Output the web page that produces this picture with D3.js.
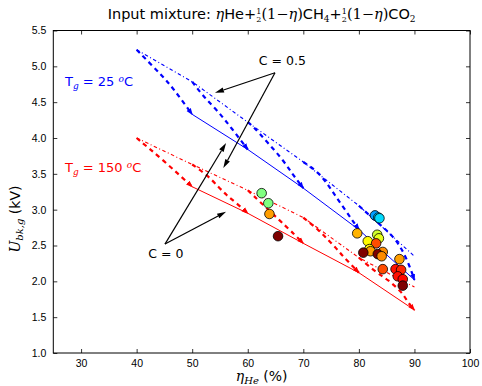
<!DOCTYPE html>
<html>
<head>
<meta charset="utf-8">
<script src="https://cdn.jsdelivr.net/npm/d3@7.9.0/dist/d3.min.js"></script>
<style>
  body { margin: 0; background: #fff; }
  svg { display: block; }
</style>
</head>
<body>
<div id="chart"></div>
<script>
// === Data ===
// C = 0.5 curves (dash-dot), eta in %
const etaC05 = [40, 50, 60, 70, 80, 90];
const uC05Cold = [5.23, 4.785, 4.22, 3.665, 3.055, 2.35];   // Tg = 25 C
const uC05Hot = [4.00, 3.63, 3.27, 2.89, 2.33, 1.92];       // Tg = 150 C

// C = 0 curves (solid)
const etaC0 = [50, 60, 70, 80, 90];
const uC0Cold = [4.33, 3.84, 3.30, 2.72, 2.02];
const uC0Hot = [3.32, 2.95, 2.53, 2.12, 1.60];

// transition curves (thick dashed), from C=0.5 at eta to C=0 at eta+10: intermediate points
const transColdEta = [[44.8, 46.6], [52.0, 54.7, 57.1], [61.0, 63.4, 66.1, 68.2], [73.0, 75.1, 77.5], [83.8, 85.9, 87.7, 89.2]];
const transColdU = [[4.855, 4.69], [4.58, 4.37, 4.135], [4.16, 3.95, 3.72, 3.48], [3.51, 3.27, 3.0], [2.79, 2.65, 2.465, 2.20]];
const transHotEta = [[44.8], [52.6, 54.7, 56.2, 58.0], [66.7, 68.2], [73.0, 74.2, 75.7, 76.9, 78.4], [83.2, 85.3, 87.7, 88.6, 89.2]];
const transHotU = [[3.69], [3.49, 3.32, 3.20, 3.09], [2.78, 2.67], [2.70, 2.60, 2.48, 2.37, 2.25], [2.12, 2.02, 1.85, 1.74, 1.67]];

// measured points: eta (%), U (kV), colour value (jet 0..1)
const measEta = [62.5, 63.7, 63.9, 65.45, 82.9, 83.5, 83.7, 79.7, 83.3, 83.6, 81.6, 83.1, 81.9, 82.1, 80.8, 84.3, 83.4, 84.1, 87.3, 84.3, 86.6, 87.6, 87.0, 87.9, 87.9];
const measU = [3.23, 3.09, 2.94, 2.63, 2.92, 2.89, 2.88, 2.67, 2.65, 2.60, 2.56, 2.53, 2.45, 2.42, 2.40, 2.41, 2.38, 2.35, 2.31, 2.17, 2.17, 2.16, 2.07, 2.03, 1.94];
const measC = [0.5, 0.5, 0.72, 1.0, 0.28, 0.33, 0.34, 0.7, 0.58, 0.6, 0.63, 0.8, 0.64, 0.72, 1.0, 0.74, 1.0, 0.74, 0.72, 0.8, 0.86, 0.84, 0.86, 0.87, 1.0];

// axis ticks
const xTicks = [30, 40, 50, 60, 70, 80, 90, 100];
const yTicks = [1.0, 1.5, 2.0, 2.5, 3.0, 3.5, 4.0, 4.5, 5.0, 5.5];

// annotations (data coords)
const labelC05 = { text: "C = 0.5", at: [62.0, 5.02], from: [64.9, 4.91], tips: [[54.1, 4.63], [55.6, 3.58]] };
const labelC0 = { text: "C = 0", at: [42.1, 2.32], from: [45.1, 2.52], tips: [[56.1, 3.93], [56.1, 2.97]] };

// === Chart setup ===
const W = 482, H = 386;
const margin = { top: 30.5, right: 12, bottom: 33, left: 53.3 };
const width = W - margin.left - margin.right;
const height = H - margin.top - margin.bottom;

const svg = d3.select("#chart").append("svg")
    .attr("width", W).attr("height", H)
    .style("font-family", "'DejaVu Sans', sans-serif");

const defs = svg.append("defs");
["#0000ff", "#ff0000"].forEach((c, i) => {
    defs.append("marker")
        .attr("id", "head" + i)
        .attr("viewBox", "0 -3 7 6")
        .attr("refX", 6).attr("refY", 0)
        .attr("markerUnits", "userSpaceOnUse")
        .attr("markerWidth", 7).attr("markerHeight", 6)
        .attr("orient", "auto")
        .append("path").attr("d", "M0,-2.6L7,0L0,2.6Z").attr("fill", c);
});

const g = svg.append("g").attr("transform", `translate(${margin.left},${margin.top})`);

const x = d3.scaleLinear().domain([25, 100]).range([0, width]);
const y = d3.scaleLinear().domain([1, 5.5]).range([height, 0]);

const jet = d3.scaleLinear()
    .domain([0, 0.125, 0.375, 0.625, 0.875, 1])
    .range(["#00007f", "#0000ff", "#00ffff", "#ffff00", "#ff0000", "#7f0000"]);

// axes: ticks inside on all four sides
const tickStyle = sel => {
    sel.select(".domain").remove();
    sel.selectAll("line").attr("stroke", "#000").attr("stroke-width", 0.8);
    sel.selectAll("text").attr("fill", "#000").style("font-size", "10.5px");
};
g.append("g").attr("transform", `translate(0,${height})`)
    .call(d3.axisBottom(x).tickValues(xTicks).tickSizeInner(-4).tickSizeOuter(0).tickPadding(7).tickFormat(d3.format("d")))
    .call(tickStyle);
g.append("g")
    .call(d3.axisTop(x).tickValues(xTicks).tickSizeInner(-4).tickSizeOuter(0).tickFormat(""))
    .call(tickStyle);
g.append("g")
    .call(d3.axisLeft(y).tickValues(yTicks).tickSizeInner(-4).tickSizeOuter(0).tickPadding(7).tickFormat(d3.format(".1f")))
    .call(tickStyle);
g.append("g").attr("transform", `translate(${width},0)`)
    .call(d3.axisRight(y).tickValues(yTicks).tickSizeInner(-4).tickSizeOuter(0).tickFormat(""))
    .call(tickStyle);

// === Lines ===
const line = d3.line().x(d => x(d[0])).y(d => y(d[1]));
const smooth = d3.line().x(d => x(d[0])).y(d => y(d[1])).curve(d3.curveBasis);

function drawSet(uC05, uC0, tEta, tU, color, idx) {
    // C = 0.5, dash-dot
    g.append("path")
        .attr("d", line(etaC05.map((e, i) => [e, uC05[i]])))
        .attr("fill", "none").attr("stroke", color).attr("stroke-width", 1.1)
        .attr("stroke-dasharray", "3.5,2.5,1,2.5");
    // C = 0, solid
    g.append("path")
        .attr("d", line(etaC0.map((e, i) => [e, uC0[i]])))
        .attr("fill", "none").attr("stroke", color).attr("stroke-width", 1);
    // transitions, thick dashed with arrow heads
    etaC0.forEach((e, i) => {
        const pts = [[etaC05[i], uC05[i]]]
            .concat(tEta[i].map((t, j) => [t, tU[i][j]]))
            .concat([[e, uC0[i]]]);
        g.append("path")
            .attr("d", smooth(pts))
            .attr("fill", "none").attr("stroke", color).attr("stroke-width", 2.2)
            .attr("stroke-dasharray", "4.5,4")
            .attr("marker-end", `url(#head${idx})`);
    });
}
drawSet(uC05Cold, uC0Cold, transColdEta, transColdU, "#0000ff", 0);
drawSet(uC05Hot, uC0Hot, transHotEta, transHotU, "#ff0000", 1);

// === Measured points ===
g.selectAll("circle.meas")
    .data(measEta.map((e, i) => ({ eta: e, u: measU[i], c: measC[i] })))
    .join("circle")
    .attr("class", "meas")
    .attr("cx", d => x(d.eta)).attr("cy", d => y(d.u))
    .attr("r", 4.8)
    .attr("fill", d => jet(d.c))
    .attr("stroke", "#000").attr("stroke-width", 0.8);

// === Annotations ===
function arrow(from, to) {
    const x0 = x(from[0]), y0 = y(from[1]), x1 = x(to[0]), y1 = y(to[1]);
    const a = Math.atan2(y1 - y0, x1 - x0);
    const L = 9, w = 2.6;
    const bx = x1 - L * Math.cos(a), by = y1 - L * Math.sin(a);
    g.append("line").attr("x1", x0).attr("y1", y0).attr("x2", bx).attr("y2", by)
        .attr("stroke", "#000").attr("stroke-width", 1.2);
    g.append("path")
        .attr("d", `M${x1},${y1}L${bx - w * Math.sin(a)},${by + w * Math.cos(a)}L${bx + w * Math.sin(a)},${by - w * Math.cos(a)}Z`)
        .attr("fill", "#000");
}
[labelC05, labelC0].forEach(lb => {
    lb.tips.forEach(t => arrow(lb.from, t));
    g.append("text").attr("x", x(lb.at[0])).attr("y", y(lb.at[1]))
        .style("font-size", "12.5px").attr("fill", "#000").text(lb.text);
});

function tgLabel(v, u, temp, color) {
    const t = g.append("text").attr("x", x(v)).attr("y", y(u))
        .attr("fill", color).style("font-size", "13px");
    t.append("tspan").text("T");
    t.append("tspan").attr("dy", 3).style("font-size", "9px")
        .style("font-family", "'DejaVu Serif', serif").style("font-style", "italic").text("g");
    t.append("tspan").attr("dy", -3).text(` = ${temp} `);
    t.append("tspan").attr("dy", -4).style("font-size", "9px")
        .style("font-family", "'DejaVu Serif', serif").style("font-style", "italic").text("o");
    t.append("tspan").attr("dy", 4).text("C");
}
tgLabel(27.1, 4.725, 25, "#0000ff");
tgLabel(27.1, 3.53, 150, "#ff0000");

// frame
g.append("rect").attr("width", width).attr("height", height)
    .attr("fill", "none").attr("stroke", "#000").attr("stroke-width", 1);

// === Title and axis labels ===
const serif = "'DejaVu Serif', serif";
const title = svg.append("text").attr("x", margin.left + width / 2).attr("y", 19)
    .attr("text-anchor", "middle").style("font-size", "14.5px").attr("fill", "#000");
title.append("tspan").text("Input mixture: ");
title.append("tspan").style("font-family", serif).style("font-style", "italic").text("η");
title.append("tspan").text("He+");
function frac(t) {
    t.append("tspan").attr("dy", -5).style("font-size", "8px").style("font-family", serif).text("1");
    t.append("tspan").attr("dx", -5).attr("dy", 8).style("font-size", "8px").style("font-family", serif).text("2");
    t.append("tspan").attr("dy", -3).style("font-family", serif).text("(1−");
    t.append("tspan").style("font-family", serif).style("font-style", "italic").text("η");
    t.append("tspan").style("font-family", serif).text(")");
}
frac(title);
title.append("tspan").text("CH");
title.append("tspan").attr("dy", 3).style("font-size", "9px").style("font-family", serif).text("4");
title.append("tspan").attr("dy", -3).text("+");
frac(title);
title.append("tspan").text("CO");
title.append("tspan").attr("dy", 3).style("font-size", "9px").style("font-family", serif).text("2");

const xl = svg.append("text").attr("x", margin.left + width / 2).attr("y", 381)
    .attr("text-anchor", "middle").style("font-size", "14px").attr("fill", "#000");
xl.append("tspan").style("font-family", serif).style("font-style", "italic").text("η");
xl.append("tspan").attr("dy", 3).style("font-size", "10px").style("font-family", serif).style("font-style", "italic").text("He");
xl.append("tspan").attr("dy", -3).text(" (%)");

const yl = svg.append("text").attr("transform", `translate(20,219) rotate(-90)`)
    .attr("text-anchor", "middle").style("font-size", "14px").attr("fill", "#000");
yl.append("tspan").style("font-family", serif).style("font-style", "italic").text("U");
yl.append("tspan").attr("dy", 3).style("font-size", "10px").style("font-family", serif).style("font-style", "italic").text("bk,g");
yl.append("tspan").attr("dy", -3).text(" (kV)");
</script>
</body>
</html>
